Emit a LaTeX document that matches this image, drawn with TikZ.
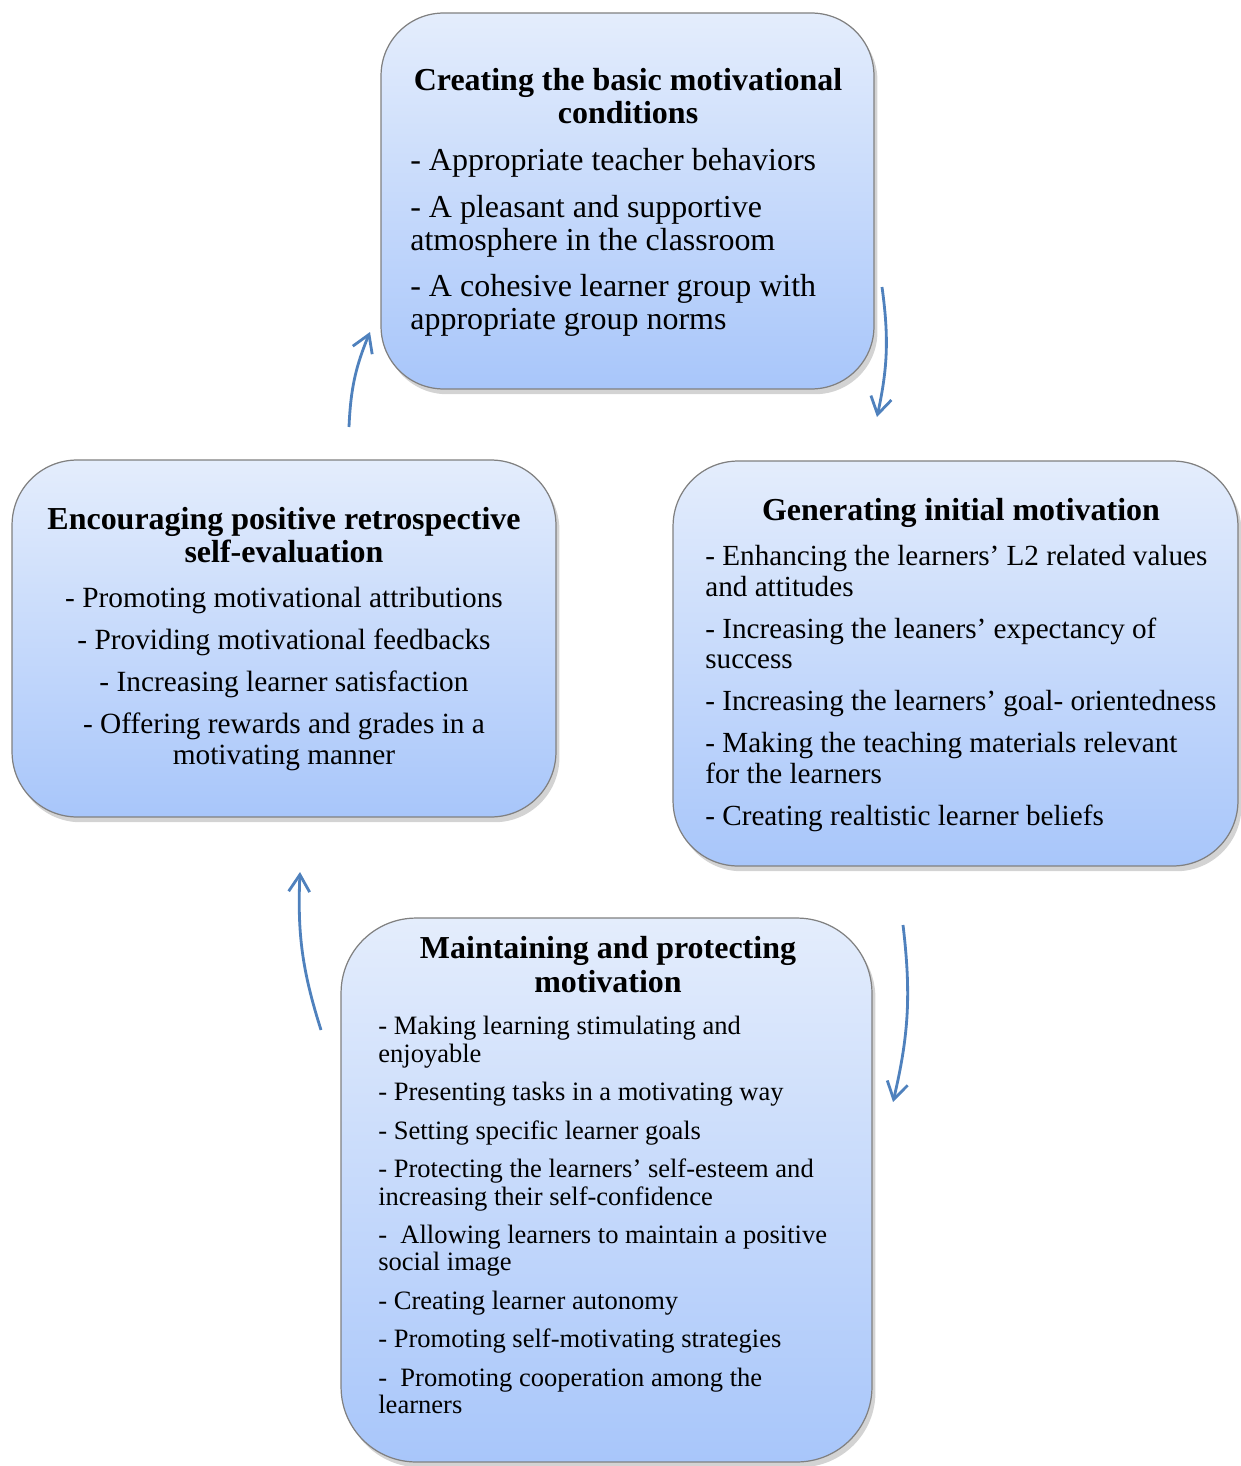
\documentclass[tikz,border=0pt]{standalone}
\usepackage{fontspec}
\setmainfont{Liberation Serif}
\usepackage{xcolor}
\usepackage{tikz}
\usetikzlibrary{arrows.meta, shadows}

\definecolor{boxTop}{HTML}{E4EDFC}
\definecolor{boxBot}{HTML}{A8C6FA}
\definecolor{arrBlue}{HTML}{4F81BD}

\begin{document}
\begin{tikzpicture}[
  x=0.02cm, y=-0.02cm,
  stageBox/.style={rectangle, rounded corners=1.25cm, draw=black!50, line width=0.7pt,
                   top color=boxTop, bottom color=boxBot,
                   drop shadow={shadow xshift=2pt, shadow yshift=-3pt, opacity=0.35}},
  headText/.style={inner sep=0pt, align=center, font=\bfseries\fontsize{18.2}{18.8}\selectfont},
  bodyText/.style={inner sep=0pt, align=left, font=\fontsize{18.2}{18.8}\selectfont},
  arr/.style={-{Straight Barb[length=0.34cm, width=0.42cm]}, arrBlue, line width=1.6pt}
]
\useasboundingbox (0,0) rectangle (1240,1466);

% the four stages of the cycle
\node[stageBox, minimum width=9.86cm, minimum height=7.52cm] (basic) at (627.5,201) {};
\node[stageBox, minimum width=10.88cm, minimum height=7.14cm, rounded corners=1.3cm] (retro) at (284,638.5) {};
\node[stageBox, minimum width=11.3cm, minimum height=8.1cm, rounded corners=1.3cm] (initial) at (955.5,663.5) {};
\node[stageBox, minimum width=10.62cm, minimum height=10.88cm, rounded corners=1.5cm] (maintain) at (606.5,1190) {};

% texts of the top stage
\node[headText, anchor=north] (basicHead) at (628,68)
  {Creating the basic motivational\\conditions};
\node[bodyText, anchor=north west] (basicBody) at (410,148)
  {- Appropriate teacher behaviors\\[7.7pt]
   - A pleasant and supportive\\atmosphere in the classroom\\[7.7pt]
   - A cohesive learner group with\\appropriate group norms};

% texts of the left stage
\node[headText, anchor=north] (retroHead) at (284,507)
  {Encouraging positive retrospective\\self-evaluation};
\node[bodyText, align=center, anchor=north, font=\fontsize{16.7}{17.6}\selectfont] (retroBody) at (284,587)
  {- Promoting motivational attributions\\[6.3pt]
   - Providing motivational feedbacks\\[6.3pt]
   - Increasing learner satisfaction\\[6.3pt]
   - Offering rewards and grades in a\\motivating manner};

% texts of the right stage
\node[headText, anchor=north] (initialHead) at (961,498)
  {Generating initial motivation};
\node[bodyText, anchor=north west, font=\fontsize{16.6}{17.4}\selectfont] (initialBody) at (705,545)
  {- Enhancing the learners' L2 related values\\and attitudes\\[6.5pt]
   - Increasing the leaners' expectancy of\\success\\[6.5pt]
   - Increasing the learners' goal- orientedness\\[6.5pt]
   - Making the teaching materials relevant\\for the learners\\[6.5pt]
   - Creating realtistic learner beliefs};

% texts of the bottom stage
\node[headText, anchor=north, font=\bfseries\fontsize{18.2}{19.3}\selectfont] (maintainHead) at (608,936)
  {Maintaining and protecting\\motivation};
\node[bodyText, anchor=north west, font=\fontsize{15.1}{15.6}\selectfont] (maintainBody) at (378,1016)
  {- Making learning stimulating and\\enjoyable\\[6.3pt]
   - Presenting tasks in a motivating way\\[6.3pt]
   - Setting specific learner goals\\[6.3pt]
   - Protecting the learners' self-esteem and\\increasing their self-confidence\\[6.3pt]
   - \ Allowing learners to maintain a positive\\social image\\[6.3pt]
   - Creating learner autonomy\\[6.3pt]
   - Promoting self-motivating strategies\\[6.3pt]
   - \ Promoting cooperation among the\\learners};

% arrow ends
\coordinate (retroOut) at (349,427);
\coordinate (basicIn) at (370,332);
\coordinate (basicOut) at (882,287);
\coordinate (initialIn) at (877,417);
\coordinate (initialOut) at (903,925);
\coordinate (maintainIn) at (893,1102);
\coordinate (maintainOut) at (321,1030);
\coordinate (retroIn) at (300,872);

\foreach \s/\t in {retroOut/basicIn, basicOut/initialIn, initialOut/maintainIn, maintainOut/retroIn}
  \draw[arr] (\s) to[bend left=10] (\t);
\end{tikzpicture}
\end{document}
